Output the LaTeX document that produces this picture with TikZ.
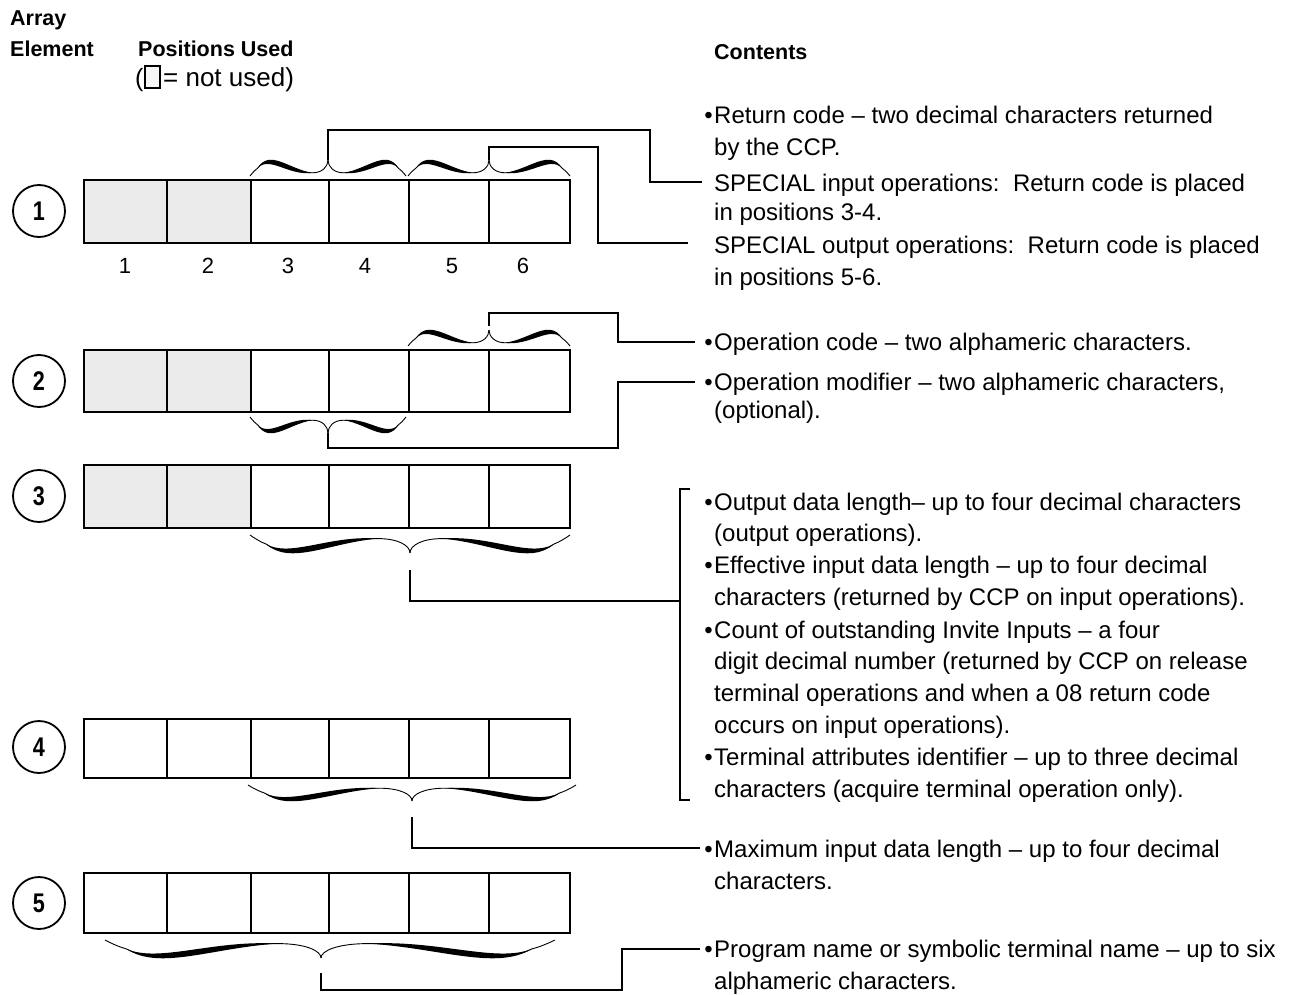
\documentclass[tikz,border=0pt]{standalone}
\usepackage{fontspec}
\setmainfont{Liberation Sans}
\tikzset{
  cell/.style={draw, line width=1.4pt},
  unused/.style={cell, fill=black!8},
  conn/.style={line width=1.3pt},
  bracethin/.style={line width=0.9pt},
  circnum/.style={circle, draw, line width=1.8pt, minimum size=52pt, inner sep=0pt, font=\fontsize{27}{27}\selectfont\bfseries},
  hdr/.style={anchor=base west, inner sep=0pt, font=\fontsize{21.5}{26}\selectfont\bfseries},
  body/.style={anchor=base west, inner sep=0pt, font=\fontsize{24}{32}\selectfont},
  bul/.style={anchor=base east, inner sep=0pt, font=\fontsize{24}{32}\selectfont},
  posnum/.style={anchor=base, inner sep=0pt, font=\fontsize{22}{26}\selectfont},
}
\newcommand\bracehalf[4]{%
  \pgfmathsetmacro\hd{#2-#1}%
  \pgfmathsetmacro\bax{#1+0.1*\hd}%
  \pgfmathsetmacro\bay{#3-0.5*#4}%
  \pgfmathsetmacro\cax{#1+0.25*\hd}%
  \pgfmathsetmacro\cay{#3-1.5*#4}%
  \pgfmathsetmacro\cbx{#1+0.5*\hd}%
  \pgfmathsetmacro\cby{#3-0.2*#4}%
  \pgfmathsetmacro\bbx{#1+0.8*\hd}%
  \pgfmathsetmacro\bby{#3-0.2*#4}%
  \pgfmathsetmacro\bty{#3-#4}%
  \pgfmathsetmacro\bt{0.22*abs(#4)}%
  \draw[bracethin] (#1,#3) .. controls ({#1+0.04*\hd},{#3-0.25*#4}) and ({#1+0.07*\hd},{#3-0.4*#4}) .. (\bax,\bay)
     .. controls (\cax,\cay) and (\cbx,\cby) .. (\bbx,\bby)
     .. controls ({#1+0.93*\hd},\bby) and (#2,{#3-0.6*#4}) .. (#2,\bty);
  \fill (\bax,\bay) .. controls (\cax,{\cay-\bt}) and (\cbx,{\cby-\bt}) .. (\bbx,\bby)
     .. controls (\cbx,{\cby+\bt}) and (\cax,{\cay+\bt}) .. cycle;
}
% name, left end, right end, tip x, base y, signed height
\newcommand\curlybrace[6]{%
  \coordinate (#1) at (#4,{#5-#6});
  \bracehalf{#2}{#4}{#5}{#6}%
  \bracehalf{#3}{#4}{#5}{#6}%
}
\newcommand\cellrow[3]{%
  \foreach \i/\a/\b in {1/84/167, 2/167/251, 3/251/329, 4/329/409, 5/409/489, 6/489/570} {
    \ifnum\i>#3\relax
      \draw[cell] (\a,#1) rectangle (\b,#2);
    \else
      \draw[unused] (\a,#1) rectangle (\b,#2);
    \fi
  }%
}
\newcommand\cdigit[1]{\scalebox{0.8}[1]{#1}}
\begin{document}
\begin{tikzpicture}[x=1pt,y=-1pt]
\useasboundingbox (0,0) rectangle (1298,995);

% headers
\node[hdr] (hArray) at (10,26) {Array};
\node[hdr] (hElem) at (10,57) {Element};
\node[hdr] (hPos) at (138,57) {Positions Used};
\node[hdr] (hCont) at (714,60) {Contents};
\node[body, font=\fontsize{25}{26}\selectfont] (lpar) at (135,87) {(};
\draw[line width=1.2pt, fill=black!4] (145,66) rectangle (160,88);
\node[body, font=\fontsize{26}{26}\selectfont] (lnot) at (163,87) {= not used)};

% circled numbers
\node[circnum] (c1) at (39,211) {\cdigit{1}};
\node[circnum] (c2) at (39,381) {\cdigit{2}};
\node[circnum] (c3) at (39,496) {\cdigit{3}};
\node[circnum] (c4) at (39,747) {\cdigit{4}};
\node[circnum] (c5) at (39,903) {\cdigit{5}};

% cell rows
\cellrow{180}{243}{2}
\cellrow{350}{412}{2}
\cellrow{465}{528}{2}
\cellrow{719}{778}{0}
\cellrow{873}{933}{0}

% position numbers
\node[posnum] (p1) at (125,273) {1};
\node[posnum] (p2) at (208,273) {2};
\node[posnum] (p3) at (288,273) {3};
\node[posnum] (p4) at (365,273) {4};
\node[posnum] (p5) at (452,273) {5};
\node[posnum] (p6) at (523,273) {6};

% braces
\curlybrace{b1a}{250}{406}{328}{176}{16}
\curlybrace{b1b}{408}{570}{489}{176}{16}
\curlybrace{b2a}{408}{570}{489}{346}{16}
\curlybrace{b2b}{250}{406}{328}{417}{-16}
\curlybrace{b3}{250}{570}{410}{535}{-18}
\curlybrace{b4}{248}{576}{412}{785}{-16}
\curlybrace{b5}{105}{555}{321}{940}{-18}

% connector starts, corners and ends
\coordinate (s2a) at (489,326);
\coordinate (s3) at (410,570);
\coordinate (s4) at (412,817);
\coordinate (s5) at (321,973);
\coordinate (k1) at (650,130);
\coordinate (e1a) at (702,182);
\coordinate (k2) at (598,147);
\coordinate (e1b) at (688,243);
\coordinate (k3) at (618,313);
\coordinate (e2a) at (695,342);
\coordinate (k4) at (618,448);
\coordinate (e2b) at (695,382);
\coordinate (e3) at (680,601);
\coordinate (brT) at (690,489);
\coordinate (brTc) at (680,489);
\coordinate (brBc) at (680,800);
\coordinate (brB) at (690,800);
\coordinate (e4) at (700,848);
\coordinate (k5) at (622,990);
\coordinate (e5) at (700,949);

\draw[conn] (b1a) |- (k1) |- (e1a);
\draw[conn] (b1b) |- (k2) |- (e1b);
\draw[conn] (s2a) |- (k3) |- (e2a);
\draw[conn] (b2b) |- (k4) |- (e2b);
\draw[conn] (s3) |- (e3);
\draw[conn] (brT) -- (brTc) -- (brBc) -- (brB);
\draw[conn] (s4) |- (e4);
\draw[conn] (s5) |- (k5) |- (e5);

% contents text
\node[bul] (u1) at (713,124) {•};
\node[body] (t1) at (714,124) {Return code -- two decimal characters returned};
\node[body] (t2) at (714,156) {by the CCP.};
\node[body] (t3) at (714,192) {SPECIAL input operations:\ \ Return code is placed};
\node[body] (t4) at (714,220) {in positions 3-4.};
\node[body] (t5) at (714,253) {SPECIAL output operations:\ \ Return code is placed};
\node[body] (t6) at (714,285) {in positions 5-6.};

\node[bul] (u2) at (713,350) {•};
\node[body] (t7) at (714,350) {Operation code -- two alphameric characters.};
\node[bul] (u3) at (713,390) {•};
\node[body] (t8) at (714,390) {Operation modifier -- two alphameric characters,};
\node[body] (t9) at (714,418) {(optional).};

\node[bul] (u4) at (713,510) {•};
\node[body] (t10) at (714,510) {Output data length-- up to four decimal characters};
\node[body] (t11) at (714,541) {(output operations).};
\node[bul] (u5) at (713,573) {•};
\node[body] (t12) at (714,573) {Effective input data length -- up to four decimal};
\node[body] (t13) at (714,605) {characters (returned by CCP on input operations).};
\node[bul] (u6) at (713,638) {•};
\node[body] (t14) at (714,638) {Count of outstanding Invite Inputs -- a four};
\node[body] (t15) at (714,669) {digit decimal number (returned by CCP on release};
\node[body] (t16) at (714,701) {terminal operations and when a 08 return code};
\node[body] (t17) at (714,733) {occurs on input operations).};
\node[bul] (u7) at (713,765) {•};
\node[body] (t18) at (714,765) {Terminal attributes identifier -- up to three decimal};
\node[body] (t19) at (714,797) {characters (acquire terminal operation only).};

\node[bul] (u8) at (713,857) {•};
\node[body] (t20) at (714,857) {Maximum input data length -- up to four decimal};
\node[body] (t21) at (714,889) {characters.};
\node[bul] (u9) at (713,957) {•};
\node[body] (t22) at (714,957) {Program name or symbolic terminal name -- up to six};
\node[body] (t23) at (714,989) {alphameric characters.};
\end{tikzpicture}
\end{document}
